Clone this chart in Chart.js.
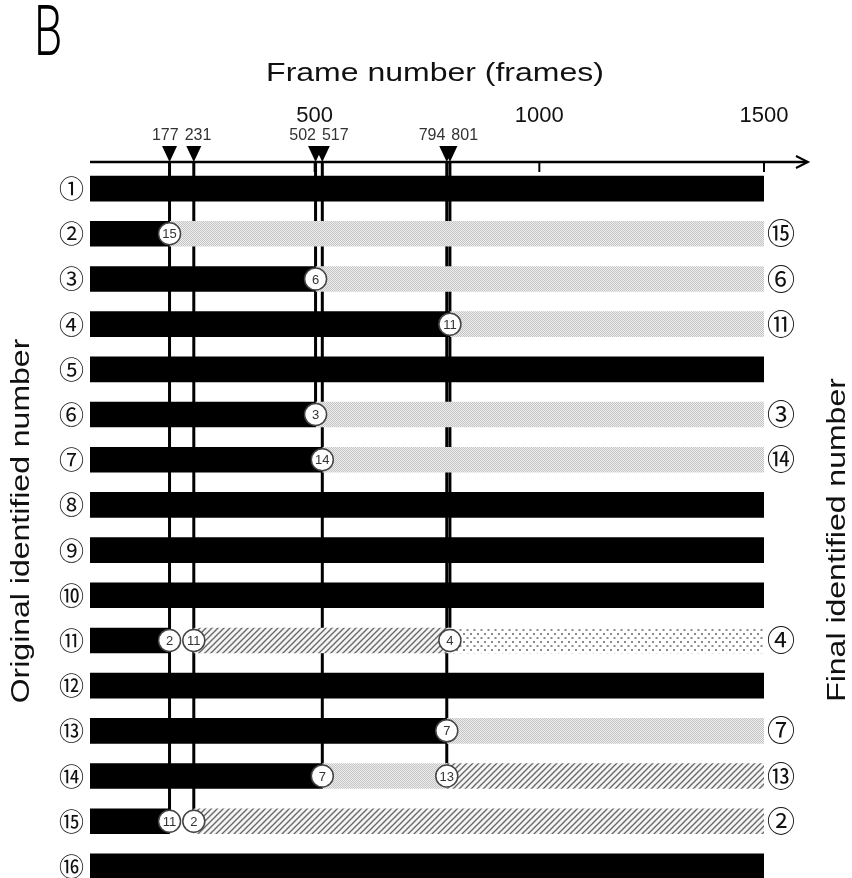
<!DOCTYPE html>
<html>
<head>
<meta charset="utf-8">
<script src="https://cdn.jsdelivr.net/npm/chart.js@4.4.0/dist/chart.umd.min.js"></script>
<style>
html, body { margin: 0; padding: 0; overflow: hidden; background: #fff; }
canvas { display: block; }
</style>
</head>
<body>
<canvas id="chartjs1" width="852" height="889"></canvas>
<script>
// rows (original id) and the id each track ends with
const origIds = ['①','②','③','④','⑤','⑥','⑦','⑧','⑨','⑩','⑪','⑫','⑬','⑭','⑮','⑯'];
const finalIds = ['','⑮','⑥','⑪','','③','⑭','','','','④','','⑦','⑬','②',''];

// segments [start, end] in frames
const blackBars = [[0,1500],[0,177],[0,502],[0,801],[0,1500],[0,502],[0,517],[0,1500],[0,1500],[0,1500],[0,177],[0,1500],[0,794],[0,517],[0,177],[0,1500]];
const greyBars  = [null,[177,1500],[502,1500],[801,1500],null,[502,1500],[517,1500],null,null,null,null,null,[794,1500],[517,794],null,null];
const hatchBars = [null,null,null,null,null,null,null,null,null,null,[231,801],null,null,[794,1500],[231,1500],null];
const dotBars   = [null,null,null,null,null,null,null,null,null,null,[801,1500],null,null,null,null,null];

// swap events (frames) and the last row each marker line reaches
const eventFrames = [177,231,502,517,794,801];
const eventLastRow = [15,15,6,14,14,11];

// circled numbers sitting on the bars
const markerRows   = [2,3,4,6,7,11,11,11,13,14,14,15,15];
const markerFrames = [177,502,801,502,517,177,231,801,794,517,794,177,231];
const markerLabels = ['15','6','11','3','14','2','11','4','7','7','13','11','2'];

function makePattern(w, h, draw) {
    var c = document.createElement('canvas');
    c.width = w; c.height = h;
    var g = c.getContext('2d');
    draw(g);
    return document.getElementById('chartjs1').getContext('2d').createPattern(c, 'repeat');
}

var greyFill = makePattern(2, 2, function(g) {
    g.fillStyle = '#eeeeee'; g.fillRect(0,0,2,2);
    g.fillStyle = '#c4c4c4'; g.fillRect(0,0,1,1); g.fillRect(1,1,1,1);
});
var hatchFill = makePattern(6, 6, function(g) {
    g.fillStyle = '#f4f4f4'; g.fillRect(0,0,6,6);
    g.strokeStyle = '#666666'; g.lineWidth = 1.3;
    g.beginPath(); g.moveTo(-1,7); g.lineTo(7,-1); g.stroke();
    g.beginPath(); g.moveTo(5,7); g.lineTo(7,5); g.stroke();
    g.beginPath(); g.moveTo(-1,1); g.lineTo(1,-1); g.stroke();
});
var dotFill = makePattern(7, 8, function(g) {
    g.fillStyle = '#ffffff'; g.fillRect(0,0,7,8);
    g.fillStyle = '#8a8a8a';
    g.fillRect(1,1,2,2); g.fillRect(4.5,5,2,2);
});

function stretchedText(ctx, text, x, y, rot, font, sx) {
    ctx.save();
    ctx.translate(x, y);
    ctx.rotate(rot);
    ctx.scale(sx, 1);
    ctx.font = font;
    ctx.fillStyle = '#111';
    ctx.textAlign = 'center';
    ctx.textBaseline = 'middle';
    ctx.fillText(text, 0, 0);
    ctx.restore();
}

const frameDeco = {
    id: 'frameDeco',
    beforeDatasetsDraw(chart) {
        const ctx = chart.ctx, xs = chart.scales.x, ys = chart.scales.y;
        const axisY = chart.chartArea.top - 4;
        ctx.save();
        ctx.strokeStyle = '#000';
        ctx.lineWidth = 3;
        eventFrames.forEach(function(f, i) {
            var px = xs.getPixelForValue(f);
            ctx.beginPath();
            ctx.moveTo(px, axisY);
            ctx.lineTo(px, ys.getPixelForValue(eventLastRow[i] - 1));
            ctx.stroke();
        });
        ctx.restore();
    },
    afterDatasetsDraw(chart) {
        const ctx = chart.ctx, xs = chart.scales.x, ys = chart.scales.y;
        ctx.save();
        markerRows.forEach(function(r, i) {
            var px = xs.getPixelForValue(markerFrames[i]);
            var py = ys.getPixelForValue(r - 1);
            ctx.beginPath();
            ctx.arc(px, py, 11, 0, Math.PI * 2);
            ctx.fillStyle = '#fff';
            ctx.fill();
            ctx.lineWidth = 1.5;
            ctx.strokeStyle = '#444';
            ctx.stroke();
            ctx.fillStyle = '#333';
            ctx.font = '13px "Liberation Sans"';
            ctx.textAlign = 'center';
            ctx.textBaseline = 'middle';
            ctx.fillText(markerLabels[i], px, py + 1);
        });
        ctx.restore();
    },
    afterDraw(chart) {
        const ctx = chart.ctx, xs = chart.scales.x, area = chart.chartArea;
        const axisY = area.top - 4;
        ctx.save();
        // axis line with arrow
        ctx.strokeStyle = '#000';
        ctx.lineWidth = 2.5;
        ctx.beginPath();
        ctx.moveTo(area.left, axisY);
        ctx.lineTo(area.right + 43, axisY);
        ctx.stroke();
        ctx.lineWidth = 2;
        ctx.beginPath();
        ctx.moveTo(area.right + 32, axisY - 6);
        ctx.lineTo(area.right + 44, axisY);
        ctx.lineTo(area.right + 32, axisY + 6);
        ctx.stroke();
        // tick marks below the line
        xs.ticks.forEach(function(t) {
            if (t.value === 0) return;
            var px = xs.getPixelForValue(t.value);
            ctx.beginPath();
            ctx.moveTo(px, axisY);
            ctx.lineTo(px, axisY + 10);
            ctx.stroke();
        });
        // event triangles and labels
        ctx.fillStyle = '#000';
        eventFrames.forEach(function(f) {
            var px = xs.getPixelForValue(f);
            ctx.beginPath();
            ctx.moveTo(px - 7.5, axisY - 16);
            ctx.lineTo(px + 7.5, axisY - 16);
            ctx.lineTo(px, axisY);
            ctx.closePath();
            ctx.fill();
        });
        ctx.font = '16px "Liberation Sans"';
        ctx.fillStyle = '#333';
        ctx.textBaseline = 'middle';
        for (var i = 0; i < eventFrames.length; i += 2) {
            var mid = (xs.getPixelForValue(eventFrames[i]) + xs.getPixelForValue(eventFrames[i + 1])) / 2;
            ctx.textAlign = 'right';
            ctx.fillText(String(eventFrames[i]), mid - 3, axisY - 26);
            ctx.textAlign = 'left';
            ctx.fillText(String(eventFrames[i + 1]), mid + 3, axisY - 26);
        }
        ctx.restore();

        stretchedText(ctx, 'Frame number (frames)', 435, 74, 0, '25px "Liberation Sans"', 1.28);
        stretchedText(ctx, 'Original identified number', 22, 521, -Math.PI / 2, '25px "Liberation Sans"', 1.28);
        stretchedText(ctx, 'Final identified number', 838, 540, -Math.PI / 2, '25px "Liberation Sans"', 1.28);

        ctx.save();
        ctx.translate(34, 55);
        ctx.scale(0.66, 1);
        ctx.font = '300 70px Roboto';
        ctx.fillStyle = '#000';
        ctx.textAlign = 'left';
        ctx.textBaseline = 'alphabetic';
        ctx.fillText('B', 0, 0);
        ctx.restore();
    }
};

function barSet(label, data, fill) {
    return {
        label: label,
        data: data,
        backgroundColor: fill,
        borderWidth: 0,
        grouped: false,
        barThickness: 25,
        yAxisID: 'y'
    };
}

var myChart = new Chart(document.getElementById('chartjs1'), {
    type: 'bar',
    data: {
        labels: origIds,
        datasets: [
            barSet('original', blackBars, '#000'),
            barSet('swapped', greyBars, greyFill),
            barSet('swapped twice', hatchBars, hatchFill),
            barSet('swapped again', dotBars, dotFill)
        ]
    },
    options: {
        indexAxis: 'y',
        responsive: false,
        animation: false,
        layout: { padding: 0 },
        plugins: {
            legend: { display: false },
            tooltip: { enabled: false }
        },
        scales: {
            x: {
                type: 'linear',
                position: 'top',
                min: 0,
                max: 1500,
                grid: { display: false, drawTicks: false },
                border: { display: false },
                ticks: {
                    stepSize: 500,
                    padding: 37,
                    color: '#111',
                    font: { family: '"Liberation Sans"', size: 22 },
                    callback: function(v) { return v === 0 ? '' : v; }
                },
                afterFit: function(s) { s.height = 166; }
            },
            y: {
                type: 'category',
                position: 'left',
                offset: true,
                grid: { display: false, drawTicks: false },
                border: { display: false },
                ticks: {
                    padding: 6,
                    color: '#111',
                    font: { family: '"Noto Sans CJK JP"', size: 25 }
                },
                afterFit: function(s) { s.width = 90; s.paddingTop = 0; s.paddingBottom = 0; }
            },
            y2: {
                type: 'category',
                position: 'right',
                labels: finalIds,
                offset: true,
                grid: { display: false, drawTicks: false },
                border: { display: false },
                ticks: {
                    padding: 3,
                    color: '#111',
                    autoSkip: false,
                    font: { family: '"Noto Sans CJK JP"', size: 28 }
                },
                afterFit: function(s) { s.width = 88; s.paddingTop = 0; s.paddingBottom = 0; }
            }
        }
    },
    plugins: [frameDeco]
});
</script>
</body>
</html>
